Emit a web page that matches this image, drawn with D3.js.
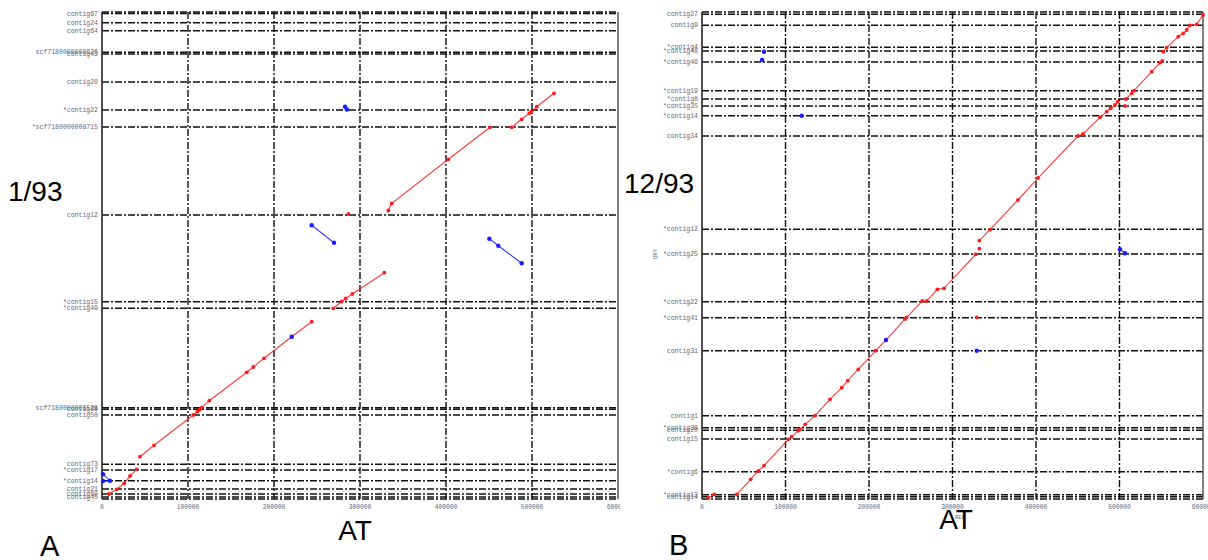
<!DOCTYPE html>
<html><head><meta charset="utf-8">
<script src="https://cdn.jsdelivr.net/npm/d3@7"></script>
<style>body{margin:0;background:#fff}svg{display:block}</style>
</head><body>
<svg id="c" width="1208" height="560"></svg>
<script>
// ---------- DATA ----------
const refTicks = [0, 100000, 200000, 300000, 400000, 500000, 600000];

// Panel A (1/93)
const contigPosA = [485500, 476300, 468300, 446700, 445000, 417000, 389000, 372000, 284000, 197300, 190700, 91300, 89700, 84000, 34700, 29000, 18300, 10000, 5000, 2000];
const contigNamesA = ["contig67", "contig24", "contig64", "scf7180000008626", "contig43", "contig20", "*contig22", "*scf7180000008715", "contig12", "*contig15", "*contig49", "scf7180000008528", "contig38", "contig50", "contig73", "*contig17", "*contig14", "contig21", "contig60", "contig45"];
const fwdA = [
  [[8100,5000],[17100,9700],[25900,15700],[32600,23000],[40300,29700]],
  [[44200,42300],[60500,53700],[106200,84000],[111000,87500],[113500,89500],[115900,91300],[124800,98300],[168300,126700],[175900,132000],[188400,140700],[220600,162300],[243800,177300]],
  [[269000,190700],[278700,197500],[283400,200500],[291000,205000],[328300,226300]],
  [[332900,288500],[336900,295700],[402700,339700],[451200,371700]],
  [[476400,371700],[488000,379700],[496900,385700],[499400,387500],[505500,392300],[525600,405700]],
  [[286400,285000]]
];
const revA = [
  [[282600,392300],[284900,389500]],
  [[243800,273700],[269800,256300]],
  [[450400,260300],[460800,253300],[488000,235700]],
  [[1200,24700],[9300,18300],[1200,18000]],
  [[220600,162300]]
];

// Panel B (12/93)
const contigPosB = [484700, 473700, 451700, 448000, 437000, 408300, 400000, 393000, 383300, 363000, 269700, 245000, 197300, 181300, 148300, 83300, 71300, 68700, 60000, 27300, 4300, 2300];
const contigNamesB = ["contig27", "contig9", "*contig4", "*contig48", "*contig46", "*contig19", "*contig8", "*contig35", "*contig14", "contig34", "*contig12", "*contig25", "*contig22", "*contig41", "contig31", "contig1", "*contig39", "contig20", "contig15", "*contig6", "*contig13", "contig14"];
const fwdB = [
  [[7500,1000],[14700,4700]],
  [[41600,4700],[58300,19700],[67400,28000],[74300,33300],[103400,59700],[107400,62300],[115300,68300],[117400,69700],[123700,74700],[135300,83300],[153300,99700],[167300,111300],[174500,118300],[187200,129700],[208000,148300],[220400,159000],[243100,180000],[245100,181700],[263800,198000],[269100,198000],[281800,209700],[289800,210700],[327800,244700]],
  [[332100,250300]],
  [[332100,258300],[344900,269300],[378400,299000],[402400,321000],[450300,363000],[456300,365000],[476600,381700],[484700,387300],[489500,390700],[494600,394000],[497800,397300]],
  [[506600,393000]],
  [[507800,400000],[514600,405700],[517400,408300],[538600,427300],[548500,436300],[551300,438000]],
  [[552500,447300],[556500,451300],[570400,462300],[576400,465700],[580500,469000],[584400,473700],[592500,474700],[600000,484000]],
  [[329000,181700]]
];
const revB = [
  [[329000,148300]],
  [[500600,249700],[506600,245700]],
  [[74300,447300]],
  [[71900,439000]],
  [[119400,383300]],
  [[220400,159000]]
];

// ---------- DRAW ----------
const svg = d3.select("#c");
const DASH = "7,2,2,2";
const LABEL_COLOR = "#5d6685";
const MONO = "'Liberation Mono','DejaVu Sans Mono',monospace";

function panel(cfg) {
  const g = svg.append("g");
  const x = d3.scaleLinear().domain([0, 600000]).range([cfg.x0, cfg.x1]);
  const y = d3.scaleLinear().domain([0, 487000]).range([cfg.yb, cfg.yt]);

  const clipId = "clip" + cfg.id;
  svg.append("clipPath").attr("id", clipId).append("rect")
    .attr("x", cfg.clipX0).attr("y", 0).attr("width", cfg.clipX1 - cfg.clipX0).attr("height", 560);
  const gc = g.attr("clip-path", `url(#${clipId})`);

  gc.selectAll(".vg").data(refTicks.slice(1, -1)).join("line")
    .attr("x1", d => x(d)).attr("x2", d => x(d))
    .attr("y1", cfg.yt).attr("y2", cfg.yb)
    .attr("stroke", "#111").attr("stroke-width", 1.4).attr("stroke-dasharray", DASH);

  gc.selectAll(".hg").data(cfg.pos).join("line")
    .attr("x1", cfg.x0).attr("x2", cfg.x1)
    .attr("y1", d => y(d)).attr("y2", d => y(d))
    .attr("stroke", "#111").attr("stroke-width", 1.5).attr("stroke-dasharray", DASH);
  [cfg.yt, cfg.yb].forEach(v => gc.append("line").attr("x1", cfg.x0).attr("x2", cfg.x1)
    .attr("y1", v).attr("y2", v).attr("stroke", "#111").attr("stroke-width", 1.5).attr("stroke-dasharray", DASH));

  gc.append("line").attr("x1", cfg.x0).attr("x2", cfg.x0).attr("y1", cfg.yt).attr("y2", cfg.yb)
    .attr("stroke", "#333").attr("stroke-width", 1.7);
  gc.append("line").attr("x1", cfg.x1).attr("x2", cfg.x1).attr("y1", cfg.yt).attr("y2", cfg.yb)
    .attr("stroke", "#555").attr("stroke-width", 1.5);

  gc.selectAll(".yl").data(cfg.pos).join("text")
    .attr("x", cfg.x0 - 4).attr("y", d => y(d)).attr("dy", "0.33em")
    .attr("text-anchor", "end").attr("font-family", MONO).attr("font-size", 6.5)
    .attr("fill", LABEL_COLOR).text((d, i) => cfg.names[i]);

  gc.selectAll(".xl").data(refTicks).join("text")
    .attr("x", d => x(d)).attr("y", cfg.yb + 10)
    .attr("text-anchor", "middle").attr("font-family", MONO).attr("font-size", 6.3)
    .attr("fill", LABEL_COLOR).text(d => String(d));

  const line = d3.line().x(d => x(d[0])).y(d => y(d[1]));
  function drawSet(set, color, r) {
    gc.selectAll(null).data(set.filter(s => s.length > 1)).join("path")
      .attr("d", line).attr("fill", "none").attr("stroke", color).attr("stroke-width", 1.1).attr("opacity", 0.85);
    gc.selectAll(null).data(set.flat()).join("circle")
      .attr("cx", d => x(d[0])).attr("cy", d => y(d[1])).attr("r", r).attr("fill", color);
  }
  drawSet(cfg.fwd, "#ff1a1a", 1.9);
  drawSet(cfg.rev, "#1a1aff", 2.2);
}

panel({id: "A", x0: 102, x1: 618, yt: 12, yb: 499, clipX0: 0, clipX1: 620,
  pos: contigPosA, names: contigNamesA, fwd: fwdA, rev: revA});
panel({id: "B", x0: 702, x1: 1203, yt: 12, yb: 499, clipX0: 620, clipX1: 1208,
  pos: contigPosB, names: contigNamesB, fwd: fwdB, rev: revB});

svg.append("text").attr("transform", "translate(657,254) rotate(-90)")
  .attr("text-anchor", "middle").attr("font-family", MONO).attr("font-size", 5.5)
  .attr("fill", LABEL_COLOR).text("QRY");
svg.append("text").attr("x", 960).attr("y", 519).attr("text-anchor", "middle")
  .attr("font-family", MONO).attr("font-size", 5.5).attr("fill", LABEL_COLOR).text("REF");

const SANS = "'Liberation Sans', Arial, sans-serif";
const big = [
  {t: "1/93", x: 8, y: 201, s: 28, a: "start"},
  {t: "12/93", x: 624, y: 193, s: 28, a: "start"},
  {t: "AT", x: 355, y: 540, s: 28, a: "middle"},
  {t: "AT", x: 956, y: 529, s: 28, a: "middle"},
  {t: "A", x: 40, y: 556, s: 29, a: "start"},
  {t: "B", x: 669, y: 555, s: 29, a: "start"}
];
svg.selectAll(".big").data(big).join("text")
  .attr("x", d => d.x).attr("y", d => d.y).attr("font-size", d => d.s)
  .attr("text-anchor", d => d.a).attr("font-family", SANS).attr("fill", "#000").text(d => d.t);
</script>
</body></html>
